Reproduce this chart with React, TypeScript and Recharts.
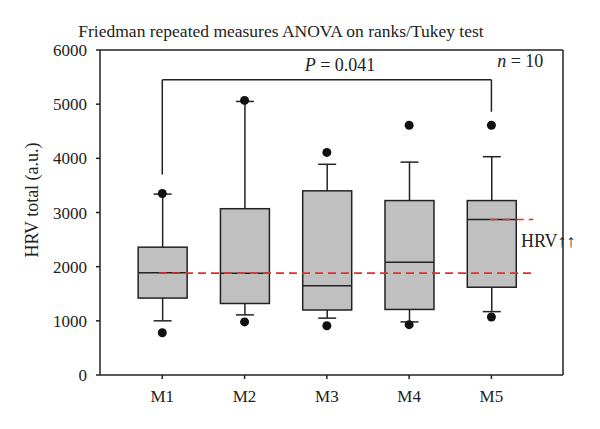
import React from 'react';
import {
  ComposedChart,
  Bar,
  Scatter,
  XAxis,
  YAxis,
  ReferenceLine,
  ReferenceDot,
  Customized,
} from 'recharts';

// groups and box statistics
const groups = [1, 2, 3, 4, 5];
const groupLabels = ['M1', 'M2', 'M3', 'M4', 'M5'];
const whiskerLow = [1000, 1110, 1050, 980, 1170];
const q1 = [1420, 1320, 1200, 1210, 1620];
const median = [1890, 1880, 1650, 2080, 2870];
const q3 = [2360, 3070, 3400, 3220, 3220];
const whiskerHigh = [3340, 5050, 3890, 3930, 4030];
const outlierLow = [780, 980, 910, 930, 1070];
const outlierHigh = [3350, 5070, 4110, 4610, 4610];

const yTicks = [0, 1000, 2000, 3000, 4000, 5000, 6000];

// bracket M1 -> M5 and reference levels
const bracketTop = 5450;
const bracketLeftFoot = 3700;
const bracketRightFoot = 4860;
const baselineLevel = 1880;
const raisedLevel = 2870;

const X_DOMAIN: [number, number] = [0.243, 5.87];
const FONT = '"Liberation Serif", "Times New Roman", serif';
const INK = '#222';

const data = groups.map((g, i) => ({
  x: g,
  name: groupLabels[i],
  lo: whiskerLow[i],
  q1: q1[i],
  med: median[i],
  q3: q3[i],
  hi: whiskerHigh[i],
  outLow: outlierLow[i],
  outHigh: outlierHigh[i],
}));

const BoxShape = (props: any) => {
  const { x, y, width, height, payload } = props;
  if (!payload) return null;
  const top = Math.min(y, y + height);
  const h = Math.abs(height);
  const span = payload.hi - payload.lo;
  const py = (v: number) => top + ((payload.hi - v) / span) * h;
  const cx = x + width / 2;
  const cap = 9;
  const sw = 1.5;
  return (
    <g>
      <line x1={cx} x2={cx} y1={py(payload.hi)} y2={py(payload.q3)} stroke={INK} strokeWidth={sw} />
      <line x1={cx} x2={cx} y1={py(payload.q1)} y2={py(payload.lo)} stroke={INK} strokeWidth={sw} />
      <line x1={cx - cap} x2={cx + cap} y1={py(payload.hi)} y2={py(payload.hi)} stroke={INK} strokeWidth={sw} />
      <line x1={cx - cap} x2={cx + cap} y1={py(payload.lo)} y2={py(payload.lo)} stroke={INK} strokeWidth={sw} />
      <rect
        x={x}
        y={py(payload.q3)}
        width={width}
        height={py(payload.q1) - py(payload.q3)}
        fill="#c0c0c0"
        stroke={INK}
        strokeWidth={sw}
      />
      <line x1={x} x2={x + width} y1={py(payload.med)} y2={py(payload.med)} stroke={INK} strokeWidth={sw} />
    </g>
  );
};

const Dot = (props: any) => <circle cx={props.cx} cy={props.cy} r={4.5} fill="#111" />;

const TextLabel = (text: React.ReactNode, anchor: string = 'middle') => (props: any) => {
  const { viewBox } = props;
  const cx = viewBox.x + (viewBox.width || 0) / 2;
  const cy = viewBox.y + (viewBox.height || 0) / 2;
  return (
    <text x={cx} y={cy} textAnchor={anchor} fontFamily={FONT} fontSize={18} fill={INK}>
      {text}
    </text>
  );
};

const Titles = () => (
  <g>
    <text x={281} y={37} textAnchor="middle" fontFamily={FONT} fontSize={17.5} fill={INK}>
      Friedman repeated measures ANOVA on ranks/Tukey test
    </text>
    <text
      x={38}
      y={200}
      textAnchor="middle"
      fontFamily={FONT}
      fontSize={18}
      fill={INK}
      transform="rotate(-90 38 200)"
    >
      HRV total (a.u.)
    </text>
  </g>
);

const lineStyle = { stroke: INK, strokeWidth: 1.5 };
const redStyle = { stroke: '#e0312f', strokeWidth: 1.6, strokeDasharray: '8 5' };

export default function App() {
  return (
    <div style={{ position: 'absolute', left: 0, top: 0, background: '#fff' }}>
      <ComposedChart
        width={600}
        height={429}
        data={data}
        margin={{ top: 50, right: 37, bottom: 24, left: 40 }}
      >
        <XAxis
          type="number"
          dataKey="x"
          domain={X_DOMAIN}
          ticks={groups}
          allowDataOverflow
          tickFormatter={(v: number) => groupLabels[v - 1] ?? ''}
          height={30}
          tickSize={4}
          tickMargin={11}
          axisLine={lineStyle}
          tickLine={lineStyle}
          tick={{ fontFamily: FONT, fontSize: 17, fill: INK }}
        />
        <YAxis
          type="number"
          domain={[0, 6000]}
          ticks={yTicks}
          width={60}
          tickSize={4}
          tickMargin={9}
          axisLine={lineStyle}
          tickLine={lineStyle}
          tick={{ fontFamily: FONT, fontSize: 17, fill: INK }}
        />
        <ReferenceLine y={6000} {...lineStyle} />
        <ReferenceLine x={X_DOMAIN[1]} {...lineStyle} />
        <Bar
          dataKey={(d: any) => [d.lo, d.hi]}
          barSize={49}
          shape={<BoxShape />}
          isAnimationActive={false}
        />
        <ReferenceLine
          segment={[{ x: 0.96, y: baselineLevel }, { x: 5.51, y: baselineLevel }]}
          {...redStyle}
        />
        <ReferenceLine
          segment={[{ x: 4.98, y: raisedLevel }, { x: 5.51, y: raisedLevel }]}
          {...redStyle}
        />
        <ReferenceLine segment={[{ x: 1, y: bracketLeftFoot }, { x: 1, y: bracketTop }]} {...lineStyle} />
        <ReferenceLine segment={[{ x: 1, y: bracketTop }, { x: 5, y: bracketTop }]} {...lineStyle} />
        <ReferenceLine segment={[{ x: 5, y: bracketTop }, { x: 5, y: bracketRightFoot }]} {...lineStyle} />
        <Scatter dataKey="outLow" shape={<Dot />} isAnimationActive={false} />
        <Scatter dataKey="outHigh" shape={<Dot />} isAnimationActive={false} />
        <ReferenceDot
          x={3.16}
          y={5620}
          r={0}
          label={{
            content: TextLabel(
              <>
                <tspan fontStyle="italic">P</tspan> = 0.041
              </>
            ),
          }}
        />
        <ReferenceDot
          x={5.35}
          y={5690}
          r={0}
          label={{
            content: TextLabel(
              <>
                <tspan fontStyle="italic">n</tspan> = 10
              </>
            ),
          }}
        />
        <ReferenceDot
          x={5.36}
          y={2370}
          r={0}
          label={{ content: TextLabel('HRV↑↑', 'start') }}
        />
        <Customized component={Titles} />
      </ComposedChart>
    </div>
  );
}
